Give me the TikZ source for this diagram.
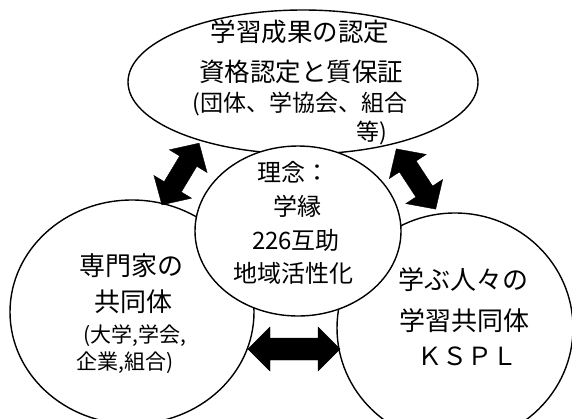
\documentclass[tikz,border=0pt]{standalone}
\usepackage{fontspec}
\newfontfamily\jp{Noto Sans CJK JP}
\usetikzlibrary{shapes.geometric}
\tikzset{
  shapebox/.style={ellipse, draw=black, fill=white, line width=1.4pt, inner sep=0pt},
  lbl/.style={inner sep=0pt, anchor=center, text=black},
  fa/.style={lbl, font=\jp\fontsize{25.5}{26}\selectfont},
  fb/.style={lbl, font=\jp\fontsize{23}{24}\selectfont},
  fc/.style={lbl, font=\jp\fontsize{24}{25}\selectfont},
  fd/.style={lbl, font=\jp\fontsize{26}{27}\selectfont},
  fe/.style={lbl, font=\jp\fontsize{21}{22}\selectfont},
  blockarrow/.style={fill=black, draw=black, line width=0.4pt, line join=miter}
}
\newcommand{\dblarrow}[5]{% L, h, H, s, (unused)
  (-#1/2,0) -- (-#1/2+#2,#3) -- (-#1/2+#2,#4) -- (#1/2-#2,#4) -- (#1/2-#2,#3) -- (#1/2,0)
  -- (#1/2-#2,-#3) -- (#1/2-#2,-#4) -- (-#1/2+#2,-#4) -- (-#1/2+#2,-#3) -- cycle}
\begin{document}
\begin{tikzpicture}[x=1pt,y=-1pt]
\useasboundingbox (0,0) rectangle (572,418);
\clip (0,0) rectangle (572,418);
\fill[white] (0,0) rectangle (572,418);
% shapes
\node[shapebox, minimum width=244pt, minimum height=224pt] (expert) at (132,312) {};
\node[shapebox, minimum width=236pt, minimum height=230pt] (learners) at (455,328) {};
\node[shapebox, minimum width=350pt, minimum height=144pt] (cert) at (303,82) {};
\node[shapebox, minimum width=206pt, minimum height=170pt] (idea) at (298,231) {};
% block arrows
\coordinate (aTL) at (180.5,174);
\coordinate (aTR) at (416,179);
\coordinate (aB) at (294,349);
\fill[blockarrow, shift={(aTL)}, rotate=58.9] \dblarrow{72}{21}{22}{10}{};
\fill[blockarrow, shift={(aTR)}, rotate=-56.8] \dblarrow{72}{21}{22}{10}{};
\fill[blockarrow, shift={(aB)}] \dblarrow{92}{22}{22}{11}{};
% texts: top
\node[fa] (t1) at (300,32) {学習成果の認定};
\node[fa] (t2) at (301,72) {資格認定と質保証};
\node[fb] (t3) at (300,104) {(団体、学協会、組合};
\node[fb] (t4) at (372,133) {等)};
% center
\node[fc] (c1) at (293,172) {理念：};
\node[fc] (c2) at (297,206) {学縁};
\node[fc] (c3) at (296,240) {226互助};
\node[fc] (c4) at (293,273) {地域活性化};
% left
\node[fd] (l1) at (131,266) {専門家の};
\node[fd] (l2) at (133,302) {共同体};
\node[fe] (l3) at (135,336) {(大学,学会,};
\node[fe] (l4) at (125,363) {企業,組合)};
% right
\node[fd] (r1) at (463,280) {学ぶ人々の};
\node[fd] (r2) at (464,321) {学習共同体};
\node[fc, font=\jp\fontsize{25}{26}\selectfont] (r3) at (467,356) {ＫＳＰＬ};
\end{tikzpicture}
\end{document}
